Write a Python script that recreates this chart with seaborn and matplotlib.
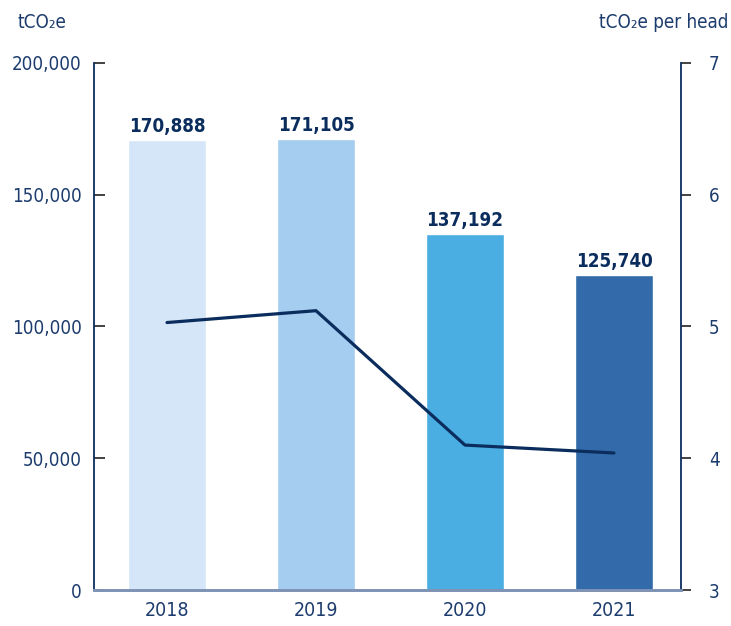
import numpy as np
import pandas as pd
import matplotlib
matplotlib.use("Agg")
import matplotlib.pyplot as plt
import seaborn as sns
from matplotlib.ticker import FuncFormatter

years = ["2018", "2019", "2020", "2021"]
emissions = [170888, 171105, 135200, 119500]          # bar heights as drawn
emission_labels = ["170,888", "171,105", "137,192", "125,740"]
per_head = [5.03, 5.12, 4.10, 4.04]
bar_colors = ["#d4e6f7", "#a4cdef", "#4baee2", "#336baa"]
left_ticks = [0, 50000, 100000, 150000, 200000]
right_ticks = [3, 4, 5, 6, 7]

sns.set_theme(style="white")
plt.rcParams["font.family"] = ["DejaVu Sans"]
plt.rcParams["font.stretch"] = "condensed"

navy = "#0b2d5e"
txt = "#1d3c6e"

fig = plt.figure(figsize=(7.31, 6.26), dpi=100)
ax = fig.add_axes([0.1286, 0.0575, 0.8030, 0.8419])

df = pd.DataFrame({"year": years, "em": emissions})
sns.barplot(data=df, x="year", y="em", hue="year", palette=bar_colors,
            legend=False, width=0.52, ax=ax, saturation=1)
for cont, lab in zip(ax.containers, emission_labels):
    ax.bar_label(cont, labels=[lab], padding=3, fontsize=13.5, fontweight="bold", color=navy)

ax.set_ylim(0, 200000)
ax.set_xlim(-0.49, 3.45)
ax.set_yticks(left_ticks)
ax.yaxis.set_major_formatter(FuncFormatter(lambda v, p: f"{int(v):,}"))
ax.set_xlabel("")
ax.set_ylabel("")
ax.tick_params(axis="y", direction="in", length=8, width=1.2, color="#222222",
               pad=9, labelsize=13.5, labelcolor=txt, left=True)
ax.tick_params(axis="x", length=0, pad=8, labelsize=14, labelcolor=txt)

ax2 = ax.twinx()
sns.lineplot(x=np.arange(len(years)), y=per_head, ax=ax2, color=navy, linewidth=2.3)
ax2.set_ylim(3, 7)
ax2.set_yticks(right_ticks)
ax2.tick_params(axis="y", direction="out", length=7, width=1.2, color="#222222",
                pad=13, labelsize=13.5, labelcolor=txt, right=True)
ax2.set_xlim(-0.49, 3.45)

for a in (ax, ax2):
    a.spines["top"].set_visible(False)
    a.spines["left"].set_color(navy)
    a.spines["right"].set_color(navy)
    a.spines["left"].set_linewidth(1.3)
    a.spines["right"].set_linewidth(1.3)
    a.spines["bottom"].set_color("#7f93b5")
    a.spines["bottom"].set_linewidth(2)
ax2.spines["left"].set_visible(False)
ax.spines["right"].set_visible(False)

fig.text(18 / 731, 1 - 22 / 626, "tCO\u2082e", ha="left", va="center",
         fontsize=13.5, color=txt)
fig.text(728 / 731, 1 - 22 / 626, "tCO\u2082e per head", ha="right", va="center",
         fontsize=13.5, color=txt)

fig.savefig("out.png", dpi=100)
